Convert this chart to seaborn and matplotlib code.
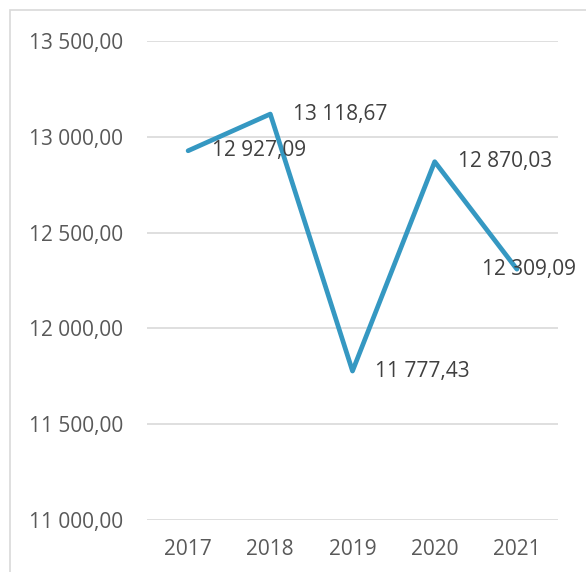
import matplotlib
matplotlib.use("Agg")
import matplotlib.pyplot as plt
import seaborn as sns
import pandas as pd
from matplotlib.patches import Rectangle
from matplotlib.ticker import FuncFormatter

years = ["2017", "2018", "2019", "2020", "2021"]
values = [12927.09, 13118.67, 11777.43, 12870.03, 12309.09]
y_ticks = [11000, 11500, 12000, 12500, 13000, 13500]

LINE = "#3598C2"
GRID = "#D9D9D9"
TXT = "#595959"


def pl_fmt(v, pos=None):
    s = f"{v:,.2f}"
    return s.replace(",", " ").replace(".", ",")


sns.set_style("white")
plt.rcParams["font.family"] = ["Open Sans", "DejaVu Sans"]

df = pd.DataFrame({"year": years, "value": values})

fig = plt.figure(figsize=(5.86, 5.72), dpi=100)
ax = fig.add_axes([147 / 586, 1 - 520 / 572, (558 - 147) / 586, (520 - 41) / 572])

# chart border like the spreadsheet frame
fig.patches.append(Rectangle((10 / 586, -0.1), 1.2, 1 - 10 / 572 + 0.1,
                             transform=fig.transFigure, fill=False,
                             edgecolor=GRID, linewidth=1.2))

sns.lineplot(data=df, x="year", y="value", ax=ax, color=LINE, linewidth=3.4,
             sort=False)

ax.set_xlim(-0.5, 4.5)
ax.set_ylim(11000, 13500)
ax.set_yticks(y_ticks)
ax.yaxis.set_major_formatter(FuncFormatter(pl_fmt))
ax.grid(axis="y", color=GRID, linewidth=1.2)
ax.set_axisbelow(True)
for s in ax.spines.values():
    s.set_visible(False)
ax.tick_params(axis="y", length=0, pad=17, labelsize=15, labelcolor=TXT)
ax.tick_params(axis="x", length=0, pad=14, labelsize=15, labelcolor=TXT)
ax.set_xlabel("")
ax.set_ylabel("")

# last label is pushed back inside the frame, as the spreadsheet does
label_dx = [17, 16, 16, 17, -25]
for i, v in enumerate(values):
    ax.annotate(pl_fmt(v), (i, v), xytext=(label_dx[i], 0),
                textcoords="offset points", ha="left", va="center",
                fontsize=15, color="#404040", annotation_clip=False)

fig.savefig("out.png", dpi=100)
